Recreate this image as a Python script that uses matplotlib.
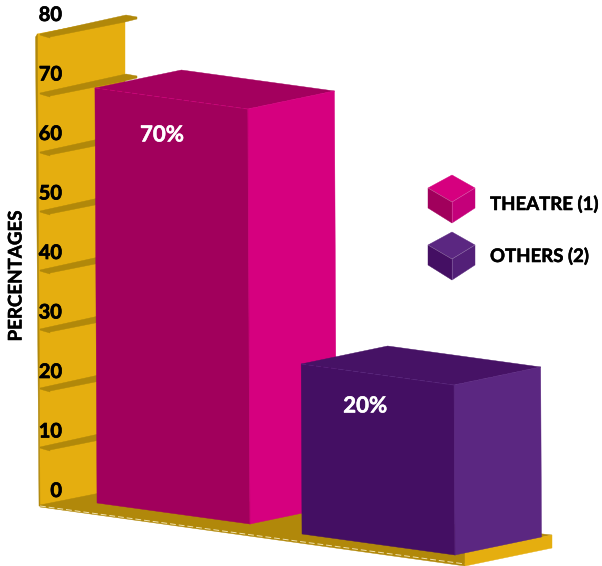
import matplotlib
matplotlib.use('Agg')
import numpy as np
import matplotlib.pyplot as plt
import matplotlib.patheffects as pe

categories = ['THEATRE (1)', 'OTHERS (2)']
percentages = [70, 20]
axis_ticks = [0, 10, 20, 30, 40, 50, 60, 70, 80]
axis_title = 'PERCENTAGES'

front_colors = ['#A1005C', '#440F63']
side_colors = ['#D6007F', '#5B2781']
top_colors = ['#A3005E', '#461265']
cube_top = ['#D6007F', '#5B2781']
cube_left = ['#A1005C', '#440F63']
cube_right = ['#C4007A', '#532078']

GOLD = '#E5AE0F'
DARK_GOLD = '#B1880A'
FONT = 'Lato'

# oblique projection, everything is in figure pixels
WALL_BASE = 506
WALL_SCALE = 5.9
BAR_SCALE = 4.9
BAR_PLINTH = 72
BAR_WIDTH = np.array([153, 21])
BAR_DEPTH = np.array([86.5, -18])
BAR_ORIGINS = [np.array([97, 503]), np.array([302, 534])]
BAR_LEAN = 0.005


def tick_y(value):
    return WALL_BASE - WALL_SCALE * value


def poly(ax, points, color, edge=None, lw=0):
    ax.fill(*zip(*points), facecolor=color, edgecolor=edge or color, linewidth=lw or 0.3)


def label(ax, x, y, text, size, color='black', stroke=0.35, **kwargs):
    # the heaviest Lato is still lighter than wanted, thicken it a bit
    t = ax.text(x, y, text, color=color, fontsize=size, fontweight='bold', family=FONT,
                va='center', **kwargs)
    t.set_path_effects([pe.withStroke(linewidth=stroke, foreground=color)])


def draw_wall(ax):
    top = tick_y(axis_ticks[-1])
    poly(ax, [(37, top), (125, top - 17), (125, WALL_BASE - 17), (40, WALL_BASE)], GOLD)
    poly(ax, [(35.5, top + 3), (37.5, top), (40, WALL_BASE), (39, WALL_BASE)], DARK_GOLD)

    for value in axis_ticks[1:]:
        y = tick_y(value)
        poly(ax, [(40, y), (126, y - 19), (137, y - 17), (137, y - 15),
                  (125, y - 12), (50, y + 3), (50, y + 4), (43, y + 2), (40, y + 1)],
             DARK_GOLD)


def draw_floor(ax):
    poly(ax, [(40, WALL_BASE - 1), (125, WALL_BASE - 18), (552, 535),
              (465, 553), (465, 566), (40, WALL_BASE + 1)], DARK_GOLD)
    poly(ax, [(465, 553), (552, 535), (552, 548), (465, 566)], GOLD)
    ax.plot([40, 465], [WALL_BASE, 564], color='#F0E2AE', lw=0.7, ls=(0, (6, 3)))


def draw_bar(ax, i):
    height = BAR_PLINTH + BAR_SCALE * percentages[i]
    up = np.array([-BAR_LEAN * height, -height])
    bl = BAR_ORIGINS[i]
    br = bl + BAR_WIDTH
    tl = bl + up
    tr = br + up
    bb = br + BAR_DEPTH
    tb = tr + BAR_DEPTH
    tk = tl + BAR_DEPTH

    poly(ax, [tl, tk, tb, tr], top_colors[i])
    poly(ax, [tr, tb, bb, br], side_colors[i])
    poly(ax, [tl, tr, br, bl], front_colors[i])
    # faint seams along the top of the box
    ax.plot([tl[0], tr[0], tb[0]], [tl[1], tr[1], tb[1]], color=side_colors[i],
            lw=0.6, ls=(0, (6, 3)), alpha=0.8)
    ax.plot([tr[0], br[0]], [tr[1], br[1]], color=side_colors[i], lw=0.5)

    label(ax, tl[0] + 67 - 3 * i, tl[1] + 47 - 5 * i, '%d%%' % percentages[i], 16,
          color='white', ha='center')


def draw_cube(ax, i, y, text_y):
    x = 452
    poly(ax, [(x, y), (x + 23, y + 13), (x, y + 27), (x - 24, y + 13)], cube_top[i])
    poly(ax, [(x - 24, y + 13), (x, y + 27), (x, y + 48), (x - 24, y + 33)], cube_left[i])
    poly(ax, [(x, y + 27), (x + 23, y + 13), (x + 23, y + 33), (x, y + 48)], cube_right[i])
    ax.plot([x - 24, x, x + 23], [y + 13, y + 27, y + 13], color='white', lw=0.4, alpha=0.35)
    ax.plot([x, x], [y + 27, y + 48], color='white', lw=0.4, alpha=0.35)
    label(ax, 490, text_y, categories[i], 13.4, ha='left')


fig = plt.figure(figsize=(6.02, 5.66), dpi=100)
ax = fig.add_axes([0, 0, 1, 1])
ax.set_xlim(0, 602)
ax.set_ylim(566, 0)
ax.axis('off')

draw_wall(ax)
draw_floor(ax)
for i in range(len(percentages)):
    draw_bar(ax, i)

for value in axis_ticks:
    label(ax, 62, 491 - 5.95 * value, str(value), 14.4, stroke=0.5, ha='right')

label(ax, 16, 276, axis_title, 13.5, rotation=90, ha='center')

draw_cube(ax, 0, 175, 204)
draw_cube(ax, 1, 232, 256)

plt.savefig('out.png', dpi=100)
